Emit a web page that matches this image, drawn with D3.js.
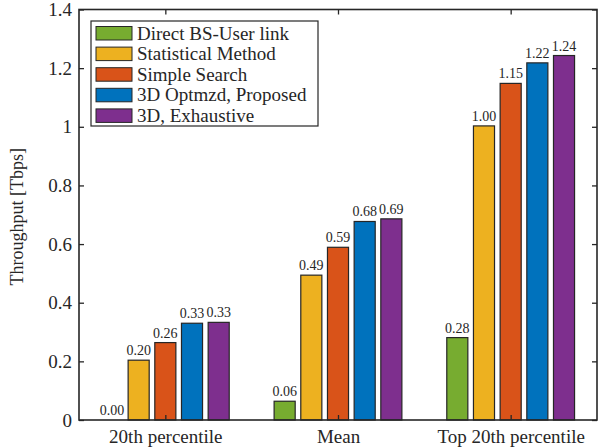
<!DOCTYPE html>
<html><head><meta charset="utf-8">
<script src="https://cdn.jsdelivr.net/npm/d3@7"></script>
<style>body{margin:0;background:#fff}svg{display:block}text{font-family:"Liberation Serif","Times New Roman",serif;fill:#262626}</style>
</head><body><div id="chart"></div>
<script>
const categories = ["20th percentile", "Mean", "Top 20th percentile"];
const seriesNames = ["Direct BS-User link", "Statistical Method", "Simple Search", "3D Optmzd, Proposed", "3D, Exhaustive"];
const seriesColors = ["#77AC30", "#EDB120", "#D95319", "#0072BD", "#7E2F8E"];
const directLink = [0.0, 0.064, 0.281];
const statistical = [0.204, 0.494, 1.003];
const simpleSearch = [0.264, 0.589, 1.148];
const optimized = [0.330, 0.677, 1.218];
const exhaustive = [0.333, 0.686, 1.243];
const yTicks = [0, 0.2, 0.4, 0.6, 0.8, 1, 1.2, 1.4];
const series = [directLink, statistical, simpleSearch, optimized, exhaustive];

const FONT = '"Liberation Serif","Times New Roman",serif';
const W = 598, H = 448;
const m = {left: 79, right: 1, top: 9.5, bottom: 28};
const svg = d3.select("#chart").append("svg").attr("width", W).attr("height", H);
const x = d3.scaleLinear().domain([0.5, 3.5]).range([m.left, W - m.right]);
const y = d3.scaleLinear().domain([0, 1.4]).range([H - m.bottom, m.top]);
const pitch = 0.1545, bw = 0.122;

// bars
series.forEach((vals, s) => {
  const g = svg.append("g");
  vals.forEach((v, i) => {
    const cx = (i + 1) + (s - 2) * pitch;
    const x0 = x(cx - bw / 2), x1 = x(cx + bw / 2);
    g.append("rect").attr("x", x0).attr("y", y(v)).attr("width", x1 - x0).attr("height", y(0) - y(v))
      .attr("fill", seriesColors[s]).attr("stroke", "#262626").attr("stroke-width", 1.2);
    svg.append("text").attr("x", x(cx)).attr("y", y(v) - 5).attr("text-anchor", "middle")
      .style("font-size", "14px").text(v.toFixed(2));
  });
});

// axes box
const axY = d3.axisLeft(y).tickValues(yTicks).tickSize(-5).tickPadding(7).tickFormat(d => d3.format("~g")(d));
const gy = svg.append("g").attr("transform", `translate(${m.left},0)`).call(axY);
gy.select(".domain").remove();
gy.selectAll("text").style("font-size", "19px").style("font-family", FONT).attr("fill", "#262626");
gy.selectAll("line").attr("stroke", "#262626").attr("stroke-width", 1.3);
const gyr = svg.append("g").attr("transform", `translate(${W - m.right},0)`).call(d3.axisRight(y).tickValues(yTicks).tickSize(-5).tickFormat(""));
gyr.select(".domain").remove();
gyr.selectAll("line").attr("stroke", "#262626").attr("stroke-width", 1.3);

const axX = d3.axisBottom(x).tickValues([1, 2, 3]).tickSize(-5).tickPadding(9.5).tickFormat((d, i) => categories[i]);
const gx = svg.append("g").attr("transform", `translate(0,${H - m.bottom})`).call(axX);
gx.select(".domain").remove();
gx.selectAll("text").style("font-size", "19px").style("font-family", FONT).attr("fill", "#262626");
gx.selectAll("line").attr("stroke", "#262626").attr("stroke-width", 1.3);
const gxt = svg.append("g").attr("transform", `translate(0,${m.top})`).call(d3.axisTop(x).tickValues([1, 2, 3]).tickSize(-5).tickFormat(""));
gxt.select(".domain").remove();
gxt.selectAll("line").attr("stroke", "#262626").attr("stroke-width", 1.3);

svg.append("rect").attr("x", m.left).attr("y", m.top).attr("width", W - m.right - m.left).attr("height", H - m.bottom - m.top)
  .attr("fill", "none").attr("stroke", "#262626").attr("stroke-width", 1.6);

// y label
svg.append("text").attr("transform", `translate(23,${(m.top + H - m.bottom) / 2 + 2}) rotate(-90)`)
  .attr("text-anchor", "middle").style("font-size", "18px").text("Throughput [Tbps]");

// legend
const lg = svg.append("g").attr("transform", "translate(91,21)");
lg.append("rect").attr("width", 227).attr("height", 105).attr("fill", "#fff").attr("stroke", "#262626").attr("stroke-width", 1.2);
seriesNames.forEach((n, i) => {
  lg.append("rect").attr("x", 5).attr("y", 5.5 + i * 20.6).attr("width", 36).attr("height", 13.5)
    .attr("fill", seriesColors[i]).attr("stroke", "#262626").attr("stroke-width", 1);
  lg.append("text").attr("x", 46).attr("y", 18.5 + i * 20.6).style("font-size", "19px").text(n);
});
</script></body></html>
